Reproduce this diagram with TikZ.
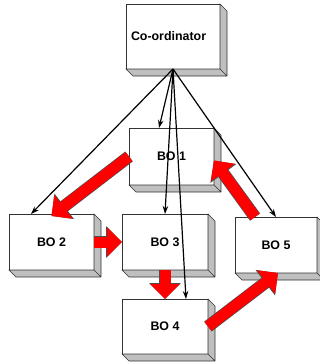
\documentclass[tikz,border=0pt]{standalone}
\usepackage{fontspec}
\setmainfont{Liberation Sans}
\usetikzlibrary{arrows.meta,calc}
\tikzset{
    box color/.style={draw=black!80},
    bo box/.style={box color,fill=white,line width=.6pt,inner sep=0pt,outer sep=0pt,
        minimum width=86pt,minimum height=56pt,font=\bfseries\fontsize{12.4}{14}\selectfont},
    box side/.style={box color,fill=black!25,line width=.6pt,line join=round},
    arr/.style={-{Stealth[length=8pt,width=5.5pt]},line width=1.2pt},
    red arr/.style={red,line width=11pt,-{Triangle[length=15pt,width=29pt]},
        preaction={draw=black!70,line width=12.4pt,-{Triangle[length=16pt,width=31pt]}}},
}

\begin{document}
\begin{tikzpicture}[x=1pt,y=-1pt]
    \useasboundingbox (0,0) rectangle (320,362);
    \node[bo box,minimum width=94pt,minimum height=65pt,text width=84pt] (coord) at (173,36.5) {Co-ordinator};
    \node[bo box,minimum width=85pt,minimum height=57pt] (bo1) at (171.5,156.5) {BO 1};
    \node[bo box,minimum width=85pt] (bo2) at (51.5,242) {BO 2};
    \node[bo box] (bo3) at (165,242) {BO 3};
    \node[bo box,minimum height=55pt] (bo4) at (165,326.5) {BO 4};
    \node[bo box,minimum width=82pt] (bo5) at (276,245) {BO 5};
    % depth of the boxes
    \foreach \b in {coord,bo1,bo2,bo3,bo4,bo5}
        \draw[box side] (\b.north east) -- ++(7,7) -- ($(\b.south east)+(7,7)$)
            -- ($(\b.south west)+(7,7)$) -- (\b.south west) -- (\b.south east) -- cycle
            (\b.south east) -- ++(7,7);
    % orders from the co-ordinator
    \draw[arr] (coord.south) -- ([xshift=22pt]bo2.north west);
    \draw[arr] (coord.south) -- ([xshift=30pt]bo1.north west);
    \draw[arr] (coord.south) -- (bo3.north);
    \draw[arr] (coord.south) -- ([xshift=21pt]bo4.north);
    \draw[arr] (coord.south) -- (bo5.north);
    % flow between the BOs
    \draw[red arr] (bo1.west) -- ([yshift=-2pt]bo2.north);
    \draw[red arr] (bo2.east) -- (bo3.west);
    \draw[red arr] (bo3.south) -- (bo4.north);
    \draw[red arr] (bo4.east) -- ([xshift=2pt]bo5.south);
    \draw[red arr] ([xshift=20pt]bo5.north west) -- ([yshift=-4pt]bo1.east);
\end{tikzpicture}
\end{document}
